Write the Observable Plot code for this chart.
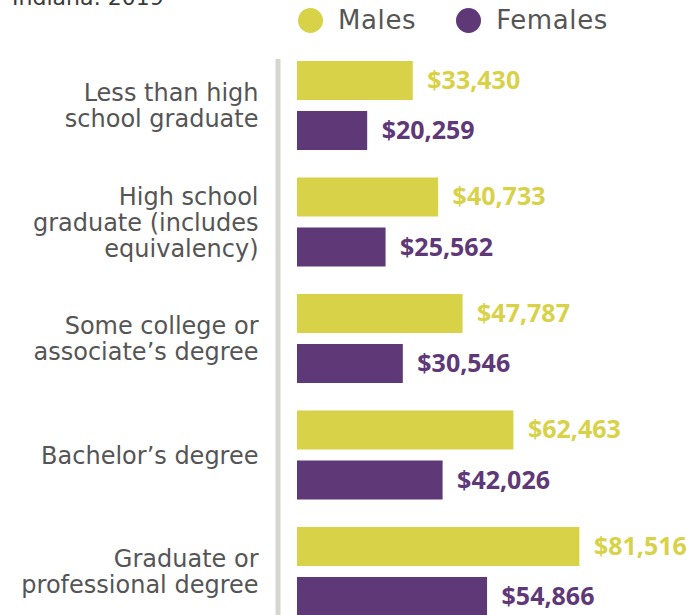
<!DOCTYPE html>
<html><head><meta charset="utf-8">
<script src="https://cdn.jsdelivr.net/npm/d3@7"></script>
<script src="https://cdn.jsdelivr.net/npm/@observablehq/plot@0.6"></script>
<style>
body{margin:0;background:#fff;}
#wrap{position:relative;width:694px;height:615px;overflow:hidden;font-family:"DejaVu Sans",sans-serif;}
#title{position:absolute;left:12px;top:-15px;font-size:22px;line-height:26px;color:#3a3a3a;font-weight:500;white-space:nowrap;}
#legend{position:absolute;left:298px;top:7px;display:flex;align-items:center;height:26px;}
.sw{width:25px;height:25px;border-radius:50%;display:inline-block;margin-right:15px;}
.lt{font-size:26px;color:#555;margin-right:40px;line-height:26px;letter-spacing:0.6px;}
#chart{position:absolute;left:0;top:0;}
</style>
</head><body>
<div id="wrap">
  <div id="chart"></div>
  <div id="title"></div>
  <div id="legend"></div>
</div>
<script>
const title = "Indiana: 2019";
const categories = [
  "Less than high\nschool graduate",
  "High school\ngraduate (includes\nequivalency)",
  "Some college or\nassociate’s degree",
  "Bachelor’s degree",
  "Graduate or\nprofessional degree"
];
const sexes = ["Males", "Females"];
const males = [33430, 40733, 47787, 62463, 81516];
const females = [20259, 25562, 30546, 42026, 54866];
const colors = ["#d8d249", "#5f3878"];

document.getElementById("title").textContent = title;
const legend = document.getElementById("legend");
sexes.forEach((s, i) => {
  const sw = document.createElement("span");
  sw.className = "sw"; sw.style.background = colors[i];
  const t = document.createElement("span");
  t.className = "lt"; t.textContent = s;
  legend.appendChild(sw); legend.appendChild(t);
});

const data = categories.flatMap((c, i) => [
  {cat: c, sex: sexes[0], value: males[i]},
  {cat: c, sex: sexes[1], value: females[i]}
]);
const fmt = d3.format("$,");

const chart = Plot.plot({
  width: 694, height: 640,
  marginLeft: 297, marginRight: 0, marginTop: 61, marginBottom: 24,
  style: {background: "transparent"},
  x: {domain: [0, 114600], axis: null},
  y: {domain: sexes, axis: null, paddingInner: 0.22, paddingOuter: 0, round: false},
  fy: {domain: categories, axis: null, paddingInner: 0.236, paddingOuter: 0, round: false},
  color: {domain: sexes, range: colors},
  marks: [
    Plot.frame({anchor: "left", dx: -19.5, stroke: "#d6d6d0", strokeWidth: 5, facet: "super"}),
    Plot.barX(data, {x: "value", y: "sex", fy: "cat", fill: "sex"}),
    Plot.text(data, {x: "value", y: "sex", fy: "cat", text: d => fmt(d.value), fill: "sex",
      textAnchor: "start", dx: 14, fontWeight: "bold", fontSize: 25, fontFamily: "Open Sans"}),
    Plot.text(categories, {fy: d => d, text: d => d, frameAnchor: "left", textAnchor: "end",
      dx: -39, fontSize: 24, lineHeight: 1.08, fill: "#555", fontFamily: "DejaVu Sans"})
  ]
});
document.getElementById("chart").appendChild(chart);
</script>
</body></html>
